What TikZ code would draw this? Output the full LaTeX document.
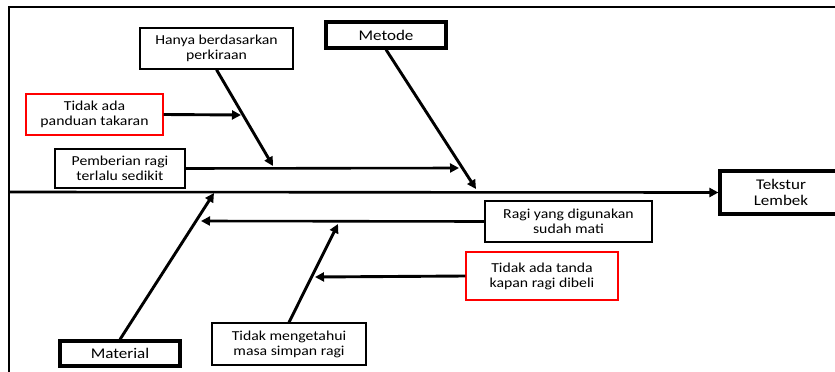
\documentclass[tikz,border=0pt]{standalone}
\usepackage{fontspec}
\setmainfont{Carlito}[FakeStretch=1.15]
\usepackage{tikz}
\usetikzlibrary{arrows.meta, positioning}
\tikzstyle{cause} = [rectangle, draw=black, line width=1.4pt, fill=white, align=center, inner sep=2pt, font=\fontsize{13.7}{15}\selectfont]
\tikzstyle{causered} = [cause, draw=red]
\tikzstyle{category} = [rectangle, draw=black, line width=3.2pt, fill=white, align=center, inner sep=2pt, font=\fontsize{14.8}{16}\selectfont]
\tikzstyle{arrow} = [line width=2.9pt, -{Triangle[length=9pt, width=9pt]}]
\tikzstyle{frame} = [line width=2.2pt]

\begin{document}
\begin{tikzpicture}[x=1pt, y=-1pt]

    \useasboundingbox (0,0) rectangle (835,372);
    \clip (0,0) rectangle (835,372);

    % outer frame
    \draw [frame] (9,373) -- (9,7) -- (836,7);

    % categories and effect
    \node (metode) [category, minimum width=120pt, minimum height=26pt] at (386,35) {Metode};
    \node (material) [category, minimum width=120pt, minimum height=25pt] at (120,353.5) {Material};
    \node (tekstur) [category, minimum width=122pt, minimum height=43pt] at (781,192.5) {Tekstur\\Lembek};

    % causes
    \node (hanya) [cause, minimum width=153pt, minimum height=41pt] at (216.5,48.5) {Hanya berdasarkan\\perkiraan};
    \node (panduan) [causered, minimum width=137pt, minimum height=41pt] at (94.5,114.5) {Tidak ada\\panduan takaran};
    \node (pemberian) [cause, minimum width=130pt, minimum height=39pt] at (120,168.5) {Pemberian ragi\\terlalu sedikit};
    \node (ragimati) [cause, minimum width=167pt, minimum height=41pt] at (568.5,221.5) {Ragi yang digunakan\\sudah mati};
    \node (tanda) [causered, minimum width=152pt, minimum height=48pt] at (542,276) {Tidak ada tanda\\kapan ragi dibeli};
    \node (masasimpan) [cause, minimum width=154pt, minimum height=42pt] at (289,344) {Tidak mengetahui\\masa simpan ragi};

    % free ends of the bones
    \coordinate (spinestart) at (9,192);
    \coordinate (metodeend) at (476,189);
    \coordinate (hanyaend) at (273,166);
    \coordinate (panduanend) at (241,115);
    \coordinate (pemberianend) at (459,168);
    \coordinate (materialend) at (214,193);
    \coordinate (ragimatiend) at (201,221);
    \coordinate (tandaend) at (315,277);
    \coordinate (masasimpanend) at (338,224);

    % spine
    \draw [arrow, line width=2.6pt] (spinestart) -- (tekstur.west);

    % bones
    \draw [arrow] (metode.south) -- (metodeend);
    \draw [arrow] (material.north) -- (materialend);
    \draw [arrow] (hanya.south) -- (hanyaend);
    \draw [arrow] (panduan.east) -- (panduanend);
    \draw [arrow, line width=2.6pt] (pemberian.east) -- (pemberianend);
    \draw [arrow, line width=2.6pt] (ragimati.west) -- (ragimatiend);
    \draw [arrow] (tanda.west) -- (tandaend);
    \draw [arrow] (masasimpan.north) -- (masasimpanend);

\end{tikzpicture}
\end{document}
